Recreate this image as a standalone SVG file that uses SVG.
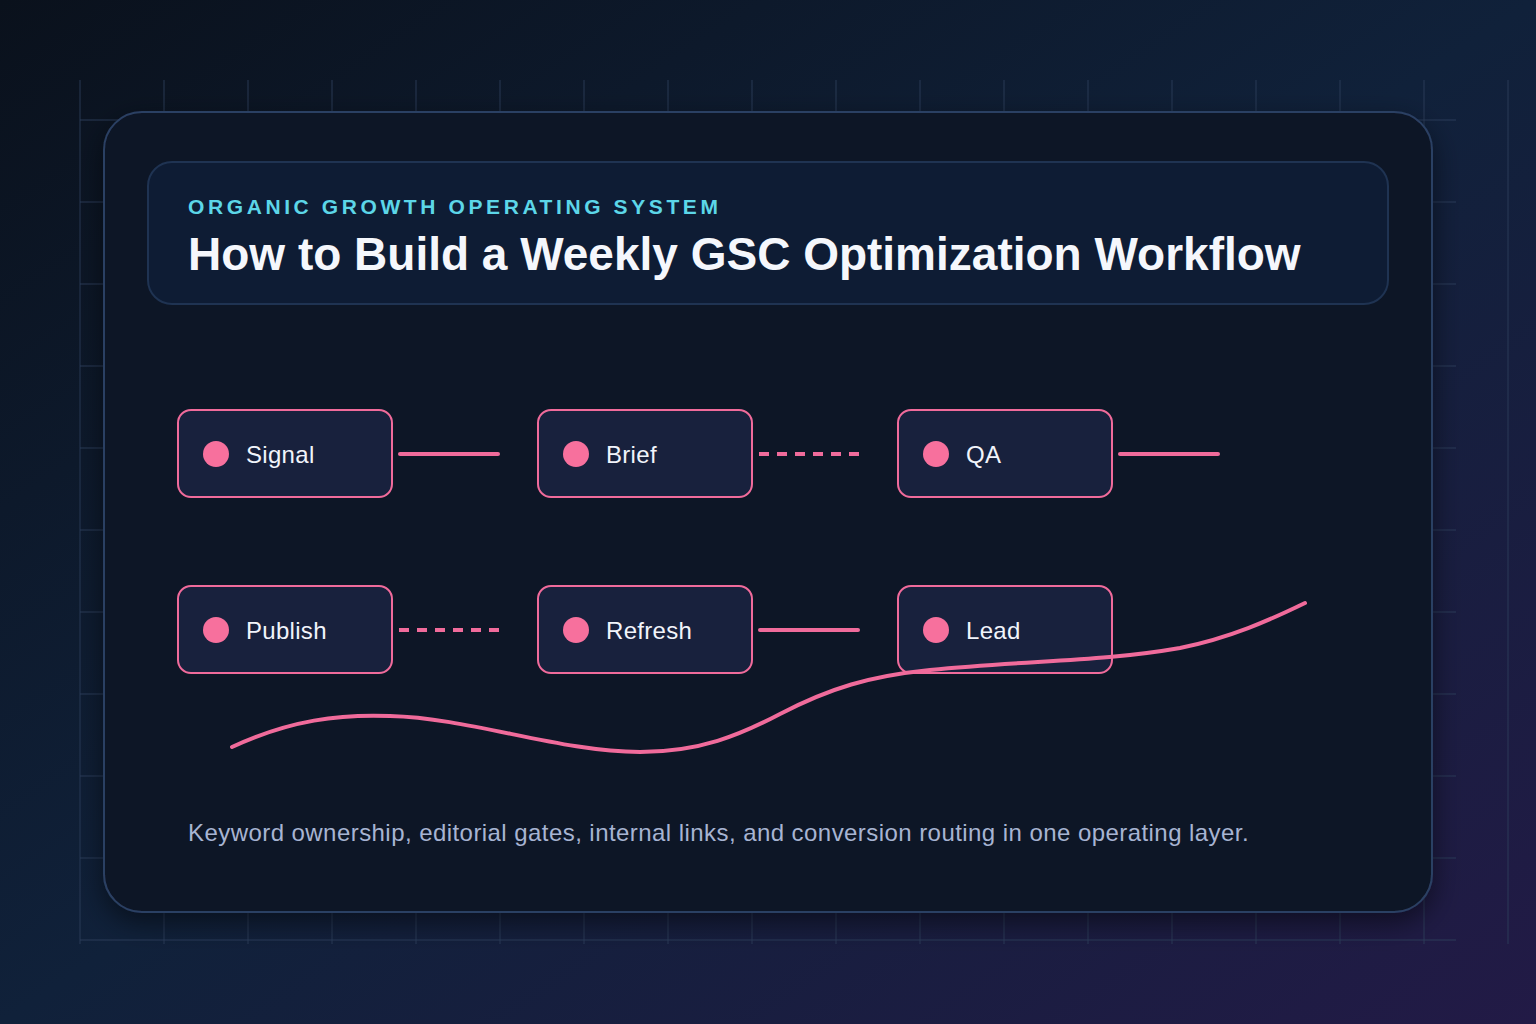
<svg xmlns="http://www.w3.org/2000/svg" width="1536" height="1024" viewBox="0 0 1536 1024">
<defs>
<linearGradient id="bg" x1="0" y1="0" x2="1" y2="1">
<stop offset="0" stop-color="#0a111c"/>
<stop offset="0.5" stop-color="#10213a"/>
<stop offset="1" stop-color="#221a46"/>
</linearGradient>
<filter id="sh" x="-10%" y="-10%" width="120%" height="125%">
<feGaussianBlur in="SourceAlpha" stdDeviation="14"/>
<feOffset dy="10"/>
<feComponentTransfer><feFuncA type="linear" slope="0.5"/></feComponentTransfer>
<feMerge><feMergeNode/><feMergeNode in="SourceGraphic"/></feMerge>
</filter>
<style>
.grid line{stroke:#2e3f5c;stroke-width:1.4;opacity:0.6}
.node rect{fill:#18213d;stroke:#f06b9b;stroke-width:2}
.node circle{fill:#f7709d}
.node text{font-family:"Liberation Sans",Arial,sans-serif;font-size:24px;letter-spacing:0.3px;fill:#f1f4fb}
.conn{stroke:#f06b9b;stroke-width:4;fill:none;stroke-linecap:round}
.dash{stroke-dasharray:10 8;stroke-linecap:butt}
</style>
</defs>
<rect width="1536" height="1024" fill="url(#bg)"/>
<g class="grid">
<line x1="80" y1="80" x2="80" y2="944"/><line x1="164" y1="80" x2="164" y2="944"/><line x1="248" y1="80" x2="248" y2="944"/><line x1="332" y1="80" x2="332" y2="944"/><line x1="416" y1="80" x2="416" y2="944"/><line x1="500" y1="80" x2="500" y2="944"/><line x1="584" y1="80" x2="584" y2="944"/><line x1="668" y1="80" x2="668" y2="944"/><line x1="752" y1="80" x2="752" y2="944"/><line x1="836" y1="80" x2="836" y2="944"/><line x1="920" y1="80" x2="920" y2="944"/><line x1="1004" y1="80" x2="1004" y2="944"/><line x1="1088" y1="80" x2="1088" y2="944"/><line x1="1172" y1="80" x2="1172" y2="944"/><line x1="1256" y1="80" x2="1256" y2="944"/><line x1="1340" y1="80" x2="1340" y2="944"/><line x1="1424" y1="80" x2="1424" y2="944"/><line x1="1508" y1="80" x2="1508" y2="944"/>
<line x1="80" y1="120" x2="1456" y2="120"/><line x1="80" y1="202" x2="1456" y2="202"/><line x1="80" y1="284" x2="1456" y2="284"/><line x1="80" y1="366" x2="1456" y2="366"/><line x1="80" y1="448" x2="1456" y2="448"/><line x1="80" y1="530" x2="1456" y2="530"/><line x1="80" y1="612" x2="1456" y2="612"/><line x1="80" y1="694" x2="1456" y2="694"/><line x1="80" y1="776" x2="1456" y2="776"/><line x1="80" y1="858" x2="1456" y2="858"/><line x1="80" y1="940" x2="1456" y2="940"/>
</g>
<g id="card">
<rect x="104" y="112" width="1328" height="800" rx="38" fill="#0f1626" stroke="#2c4063" stroke-width="2" filter="url(#sh)"/>
</g>
<g id="header">
<rect x="148" y="162" width="1240" height="142" rx="24" fill="#0e1c34" stroke="#1f3352" stroke-width="2"/>
<text x="188" y="214" font-family="Liberation Sans,Arial,sans-serif" font-size="21" font-weight="bold" letter-spacing="3.6" fill="#5cd6e8">ORGANIC GROWTH OPERATING SYSTEM</text>
<text x="188" y="270" font-family="Liberation Sans,Arial,sans-serif" font-size="46" font-weight="bold" fill="#f5f7fc">How to Build a Weekly GSC Optimization Workflow</text>
</g>
<g id="connectors">
<line class="conn" x1="400" y1="454" x2="498" y2="454"/>
<line class="conn dash" x1="759" y1="454" x2="860" y2="454"/>
<line class="conn" x1="1120" y1="454" x2="1218" y2="454"/>
<line class="conn dash" x1="399" y1="630" x2="500" y2="630"/>
<line class="conn" x1="760" y1="630" x2="858" y2="630"/>
</g>
<g id="node-signal" class="node"><rect x="178" y="410" width="214" height="87" rx="13"/><circle cx="216" cy="454" r="13"/><text x="246" y="463">Signal</text></g>
<g id="node-brief" class="node"><rect x="538" y="410" width="214" height="87" rx="13"/><circle cx="576" cy="454" r="13"/><text x="606" y="463">Brief</text></g>
<g id="node-qa" class="node"><rect x="898" y="410" width="214" height="87" rx="13"/><circle cx="936" cy="454" r="13"/><text x="966" y="463">QA</text></g>
<g id="node-publish" class="node"><rect x="178" y="586" width="214" height="87" rx="13"/><circle cx="216" cy="630" r="13"/><text x="246" y="639">Publish</text></g>
<g id="node-refresh" class="node"><rect x="538" y="586" width="214" height="87" rx="13"/><circle cx="576" cy="630" r="13"/><text x="606" y="639">Refresh</text></g>
<g id="node-lead" class="node"><rect x="898" y="586" width="214" height="87" rx="13"/><circle cx="936" cy="630" r="13"/><text x="966" y="639">Lead</text></g>
<g id="trend">
<path class="conn" stroke-width="4.5" d="M232,747 C290,720 340,714 390,716 C470,718 560,752 640,752 C700,752 740,735 780,714 C830,688 870,676 930,670 C1030,660 1100,662 1180,648 C1230,638 1270,620 1305,603"/>
</g>
<text x="188" y="841" font-family="Liberation Sans,Arial,sans-serif" font-size="24" letter-spacing="0.44" fill="#a7b4d2">Keyword ownership, editorial gates, internal links, and conversion routing in one operating layer.</text>
</svg>
